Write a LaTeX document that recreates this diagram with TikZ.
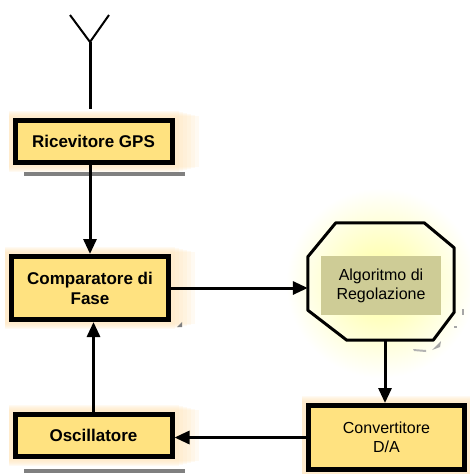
\documentclass[tikz,border=0pt]{standalone}
\usepackage{fontspec}
\setmainfont{Liberation Sans}
\usetikzlibrary{arrows.meta,positioning,calc,backgrounds}
\definecolor{boxfill}{RGB}{255,226,128}
\definecolor{regfill}{RGB}{206,204,150}
\definecolor{glowcol}{RGB}{255,228,185}
\definecolor{shadowgray}{RGB}{128,128,128}

\begin{document}
\begin{tikzpicture}[x=1pt,y=-1pt,
  blok/.style={draw=black, line width=5pt, fill=boxfill, inner sep=0pt,
    minimum width=157pt, minimum height=42pt, align=center,
    font=\fontsize{17}{20}\selectfont\bfseries},
  blokthin/.style={blok, font=\fontsize{16}{19}\selectfont},
  octarea/.style={minimum width=146pt, minimum height=117pt, inner sep=0pt},
  regbox/.style={fill=regfill, minimum width=120pt, minimum height=59pt,
    inner sep=0pt, align=center, font=\fontsize{16}{19}\selectfont},
  pil/.style={line width=3pt, -{Triangle[length=15pt,width=13pt]}}]
\useasboundingbox (0,0) rectangle (469,474);

% glow of the control block
\shade[inner color=yellow!40, outer color=white] (381,283) circle (95);

% antenna
\coordinate (ant) at (90,42);
\draw[line width=2pt] (70,15) -- (ant) -- (109,15);
\draw[line width=3pt] (ant) -- (90,109);

% blocks
\node[blok] (ric) at (93.5,141.5) {Ricevitore GPS};
\node[blok, minimum height=63pt] (comp) at (90,288) {Comparatore di\\Fase};
\node[blok] (osc) at (93.5,435.5) {Oscillatore};
\node[blokthin, minimum width=156pt, minimum height=64pt] (conv) at (386.5,437.5) {Convertitore\\D/A};
\node[octarea] (oct) at (381,281.5) {};
\node[regbox] (alg) at (381,285.5) {Algoritmo di\\Regolazione};
\draw[line width=3pt, line join=round]
  ($(oct.north west)+(28,0)$) -- ($(oct.north east)+(-30,0)$)
  -- ($(oct.north east)+(0,25)$) -- ($(oct.south east)+(0,-28)$)
  -- ($(oct.south east)+(-21,0)$) -- ($(oct.south west)+(39,0)$)
  -- ($(oct.south west)+(0,-30)$) -- ($(oct.north west)+(0,34)$) -- cycle;

% soft glow behind boxes
\begin{scope}[on background layer]
\foreach \n in {ric,comp,osc,conv} {
  \foreach \g in {4,8,...,24}
    \fill[glowcol, opacity=0.18] ($(\n.north west)+(-4,-8+\g/4)$) rectangle ($(\n.south east)+(\g,8-\g/4)$);
}
\end{scope}

% shadows under boxes
\draw[shadowgray, line width=3.5pt] (24,174) -- (185,174);
\draw[shadowgray, line width=3.5pt] (24,471) -- (185,471);
\fill[shadowgray] (177,327) -- (182,322) -- (182,327) -- cycle;
\fill[shadowgray!70] (462,309) rectangle (464,315);
\fill[shadowgray!70] (454,326) rectangle (457,328);
\fill[shadowgray!70] (432,350) -- (441,341) -- (440,347) -- cycle;
\fill[shadowgray!60] (413,349) -- (426,350) -- (426,352) -- (414,351) -- cycle;

% connections
\draw[pil] (ric.south -| comp.north) -- (comp.north);
\draw[pil] (osc.north) -- (osc.north |- comp.south);
\draw[pil] (comp.east) -- (comp.east -| oct.west);
\draw[pil] (385,0 |- oct.south) -- (385,0 |- conv.north);
\draw[pil] (conv.west) -- (conv.west -| osc.east);
\end{tikzpicture}
\end{document}
